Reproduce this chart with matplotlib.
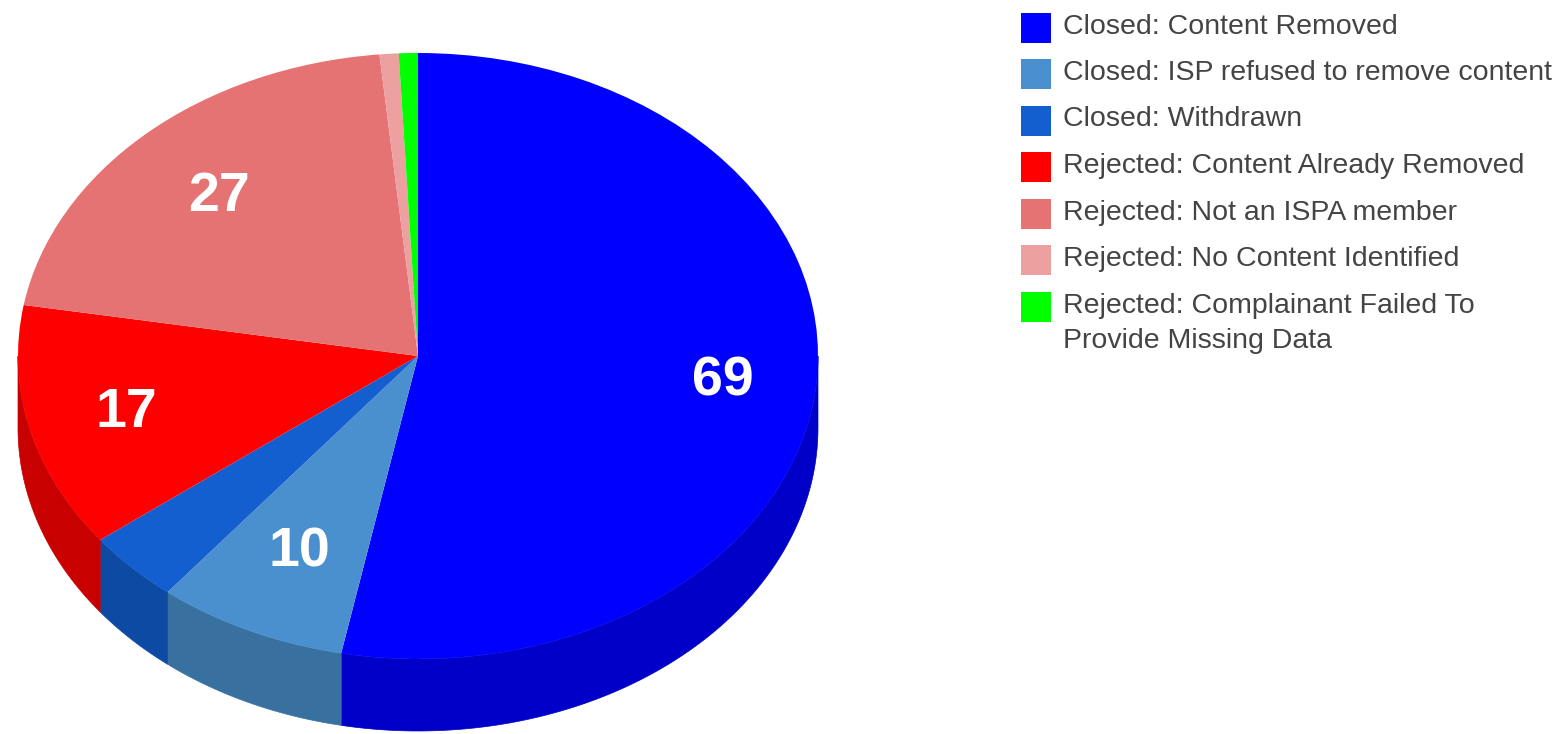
import numpy as np
import matplotlib
matplotlib.use('Agg')
import matplotlib.pyplot as plt
from matplotlib.patches import Rectangle

labels = ['Closed: Content Removed', 'Closed: ISP refused to remove content', 'Closed: Withdrawn',
          'Rejected: Content Already Removed', 'Rejected: Not an ISPA member', 'Rejected: No Content Identified',
          'Rejected: Complainant Failed To\nProvide Missing Data']
values = [69, 10, 5, 17, 27, 1, 1]
colors = ['#0000ff', '#4a90ce', '#145fd0', '#ff0000', '#e57373', '#eda0a0', '#00ff00']
side_colors = ['#0000c8', '#3871a0', '#0d4aa3', '#c80000', '#b35a5a', '#b97d7d', '#00c800']

# pixel layout of the original picture
WIDTH, HEIGHT = 1566, 734
CX, CY, RX, RY = 418, 356, 400, 303
DEPTH = 72 / RY


def fmt_value(pct):
    value = int(round(pct * sum(values) / 100))
    return str(value) if value >= 10 else ''


def draw_sides(ax):
    # angles run clockwise from the top, only the front half shows a side
    edges = np.cumsum([0] + values) / sum(values) * 360
    for i in range(len(values)):
        start = max(edges[i], 90)
        end = min(edges[i + 1], 270)
        if end <= start:
            continue
        t = np.radians(np.linspace(start, end, 80))
        x = np.sin(t)
        y = np.cos(t)
        ax.fill(np.r_[x, x[::-1]], np.r_[y, y[::-1] - DEPTH], color=side_colors[i], lw=0.5, zorder=0)


def main():
    plt.rcParams['font.family'] = ['Liberation Sans', 'DejaVu Sans']
    fig = plt.figure(figsize=(WIDTH / 100, HEIGHT / 100), dpi=100)

    ax = fig.add_axes([0, 0, 1, 1])
    wedges, _, autotexts = ax.pie(values, colors=colors, startangle=90, counterclock=False, radius=1,
                                  autopct=fmt_value, pctdistance=0.72)
    for wedge in wedges:
        wedge.set_zorder(1)

    # the labels do not sit at one fixed distance in the original
    label_dist = [0.766, 0.705, 0.72, 0.75, 0.73, 0.72, 0.72]
    edges = np.cumsum([0] + values) / sum(values) * 360
    for i, text in enumerate(autotexts):
        mid = np.radians((edges[i] + edges[i + 1]) / 2)
        text.set_position((label_dist[i] * np.sin(mid), label_dist[i] * np.cos(mid) - 3 / RY))
        text.set_color('white')
        text.set_fontsize(40)
        text.set_fontweight('bold')
        text.set_zorder(3)
    draw_sides(ax)
    ax.set_aspect('auto')
    ax.set_xlim(-CX / RX, (WIDTH - CX) / RX)
    ax.set_ylim((CY - HEIGHT) / RY, CY / RY)
    ax.axis('off')

    # legend, placed by pixel
    leg = fig.add_axes([0, 0, 1, 1])
    leg.set_xlim(0, WIDTH)
    leg.set_ylim(HEIGHT, 0)
    leg.axis('off')
    leg.patch.set_alpha(0)
    key_y = [27.5, 74, 120.5, 167, 213.5, 260, 307]
    for i in range(len(labels)):
        leg.add_patch(Rectangle((1021, key_y[i] - 15), 30, 30, color=colors[i], lw=0))
        leg.text(1063, key_y[i] - 14, labels[i], fontsize=20.5, color='#444444', va='top', ha='left',
                 linespacing=1.45)

    plt.savefig('out.png', dpi=100)


if __name__ == '__main__':
    main()
